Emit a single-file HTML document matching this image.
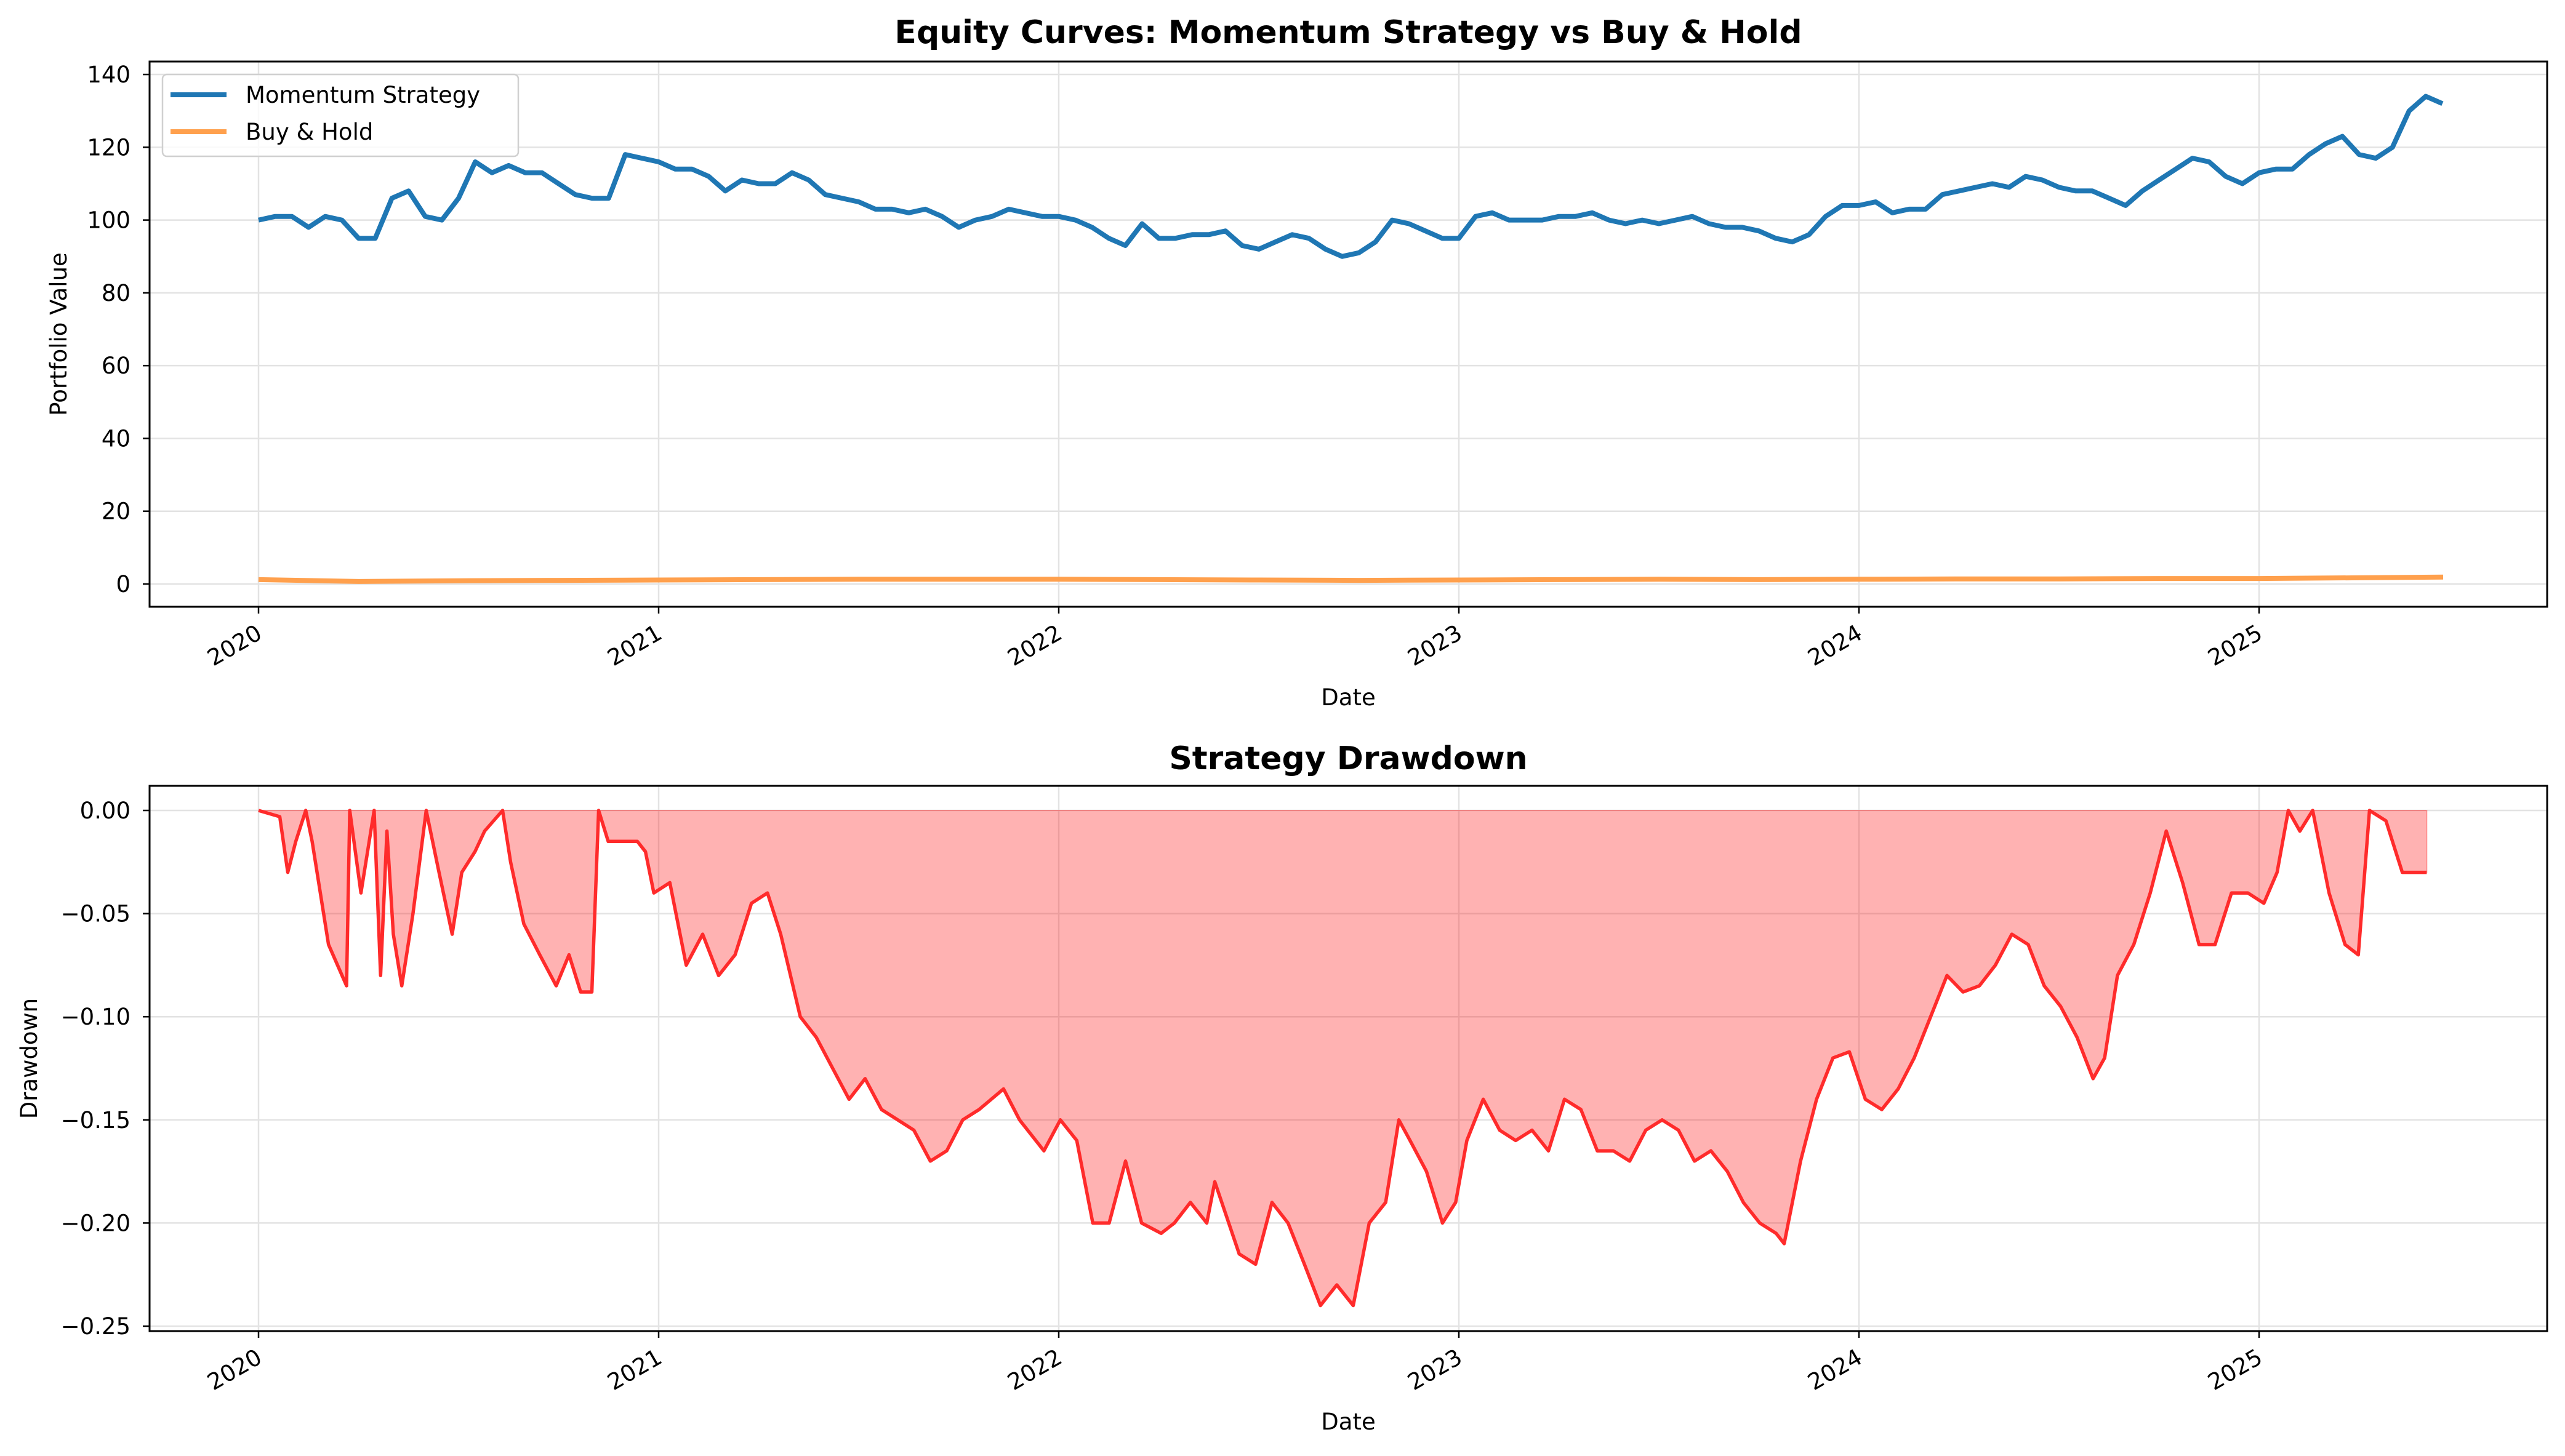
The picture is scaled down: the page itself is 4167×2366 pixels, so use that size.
<!DOCTYPE html>
<html><head><meta charset="utf-8">
<style>
html,body{margin:0;padding:0;background:#fff;}
svg{display:block;font-family:"DejaVu Sans","Liberation Sans",sans-serif;}
</style></head>
<body>
<svg id="chart" width="4167" height="2366" viewBox="0 0 4167 2366" xmlns="http://www.w3.org/2000/svg">
<rect x="0" y="0" width="4167" height="2366" fill="#fff"/>
<g id="top"></g>
<g id="bot"></g>
</svg>
<script>
// ---- data ----
const yearTicks = [2020, 2021, 2022, 2023, 2024, 2025];
const eqStartYear = 2020;
const eqStepsPerYear = 24;
const momentum = [
100,101,101,98,101,100,95,95,106,108,101,100,106,116,113,115,113,113,110,107,106,106,118,117,
116,114,114,112,108,111,110,110,113,111,107,106,105,103,103,102,103,101,98,100,101,103,102,101,
101,100,98,95,93,99,95,95,96,96,97,93,92,94,96,95,92,90,91,94,100,99,97,95,
95,101,102,100,100,100,101,101,102,100,99,100,99,100,101,99,98,98,97,95,94,96,101,104,
104,105,102,103,103,107,108,109,110,109,112,111,109,108,108,106,104,108,111,114,117,116,112,110,
113,114,114,118,121,123,118,117,120,130,134,132
];
const bhYears = [2020,2020.25,2020.5,2020.75,2021,2021.25,2021.5,2021.75,2022,2022.25,2022.5,2022.75,2023,2023.25,2023.5,2023.75,2024,2024.25,2024.5,2024.75,2025,2025.25,2025.46];
const buyHold = [1.2,0.7,0.9,1.0,1.1,1.2,1.3,1.3,1.3,1.2,1.1,1.0,1.1,1.2,1.3,1.2,1.3,1.4,1.4,1.5,1.5,1.7,1.9];
const ddYears = [2020.00,2020.053,2020.073,2020.093,2020.118,2020.134,2020.175,2020.220,2020.228,2020.256,2020.289,2020.305,2020.321,2020.337,2020.358,2020.386,2020.419,2020.451,2020.484,2020.508,2020.541,2020.565,2020.610,2020.630,2020.663,2020.703,2020.744,2020.776,2020.805,2020.833,2020.850,2020.874,2020.947,2020.967,2020.988,
2021.028,2021.069,2021.110,2021.150,2021.191,2021.232,2021.272,2021.305,2021.354,2021.394,2021.435,2021.476,2021.516,2021.557,2021.638,2021.679,2021.720,2021.760,2021.801,2021.862,2021.902,2021.963,
2022.004,2022.045,2022.085,2022.126,2022.167,2022.207,2022.256,2022.289,2022.329,2022.370,2022.390,2022.451,2022.492,2022.533,2022.573,2022.614,2022.654,2022.695,2022.736,2022.776,2022.817,2022.850,2022.878,2022.919,2022.959,2022.992,
2023.020,2023.061,2023.102,2023.142,2023.183,2023.224,2023.264,2023.305,2023.346,2023.386,2023.427,2023.467,2023.508,2023.549,2023.589,2023.630,2023.671,2023.711,2023.752,2023.793,2023.813,2023.854,2023.894,2023.935,2023.976,
2024.016,2024.057,2024.098,2024.138,2024.179,2024.220,2024.260,2024.301,2024.341,2024.382,2024.423,2024.463,2024.504,2024.545,2024.585,2024.614,2024.646,2024.687,2024.728,2024.768,2024.809,2024.850,2024.890,2024.931,2024.972,
2025.012,2025.045,2025.073,2025.102,2025.134,2025.175,2025.215,2025.248,2025.276,2025.317,2025.358,2025.419];
const drawdown = [0,-0.003,-0.03,-0.015,0,-0.015,-0.065,-0.085,0,-0.04,0,-0.08,-0.01,-0.06,-0.085,-0.05,0,-0.03,-0.06,-0.03,-0.02,-0.01,0,-0.025,-0.055,-0.07,-0.085,-0.07,-0.088,-0.088,0,-0.015,-0.015,-0.02,-0.04,
-0.035,-0.075,-0.06,-0.08,-0.07,-0.045,-0.04,-0.06,-0.1,-0.11,-0.125,-0.14,-0.13,-0.145,-0.155,-0.17,-0.165,-0.15,-0.145,-0.135,-0.15,-0.165,
-0.15,-0.16,-0.2,-0.2,-0.17,-0.2,-0.205,-0.2,-0.19,-0.2,-0.18,-0.215,-0.22,-0.19,-0.2,-0.22,-0.24,-0.23,-0.24,-0.2,-0.19,-0.15,-0.16,-0.175,-0.2,-0.19,
-0.16,-0.14,-0.155,-0.16,-0.155,-0.165,-0.14,-0.145,-0.165,-0.165,-0.17,-0.155,-0.15,-0.155,-0.17,-0.165,-0.175,-0.19,-0.2,-0.205,-0.21,-0.17,-0.14,-0.12,-0.117,
-0.14,-0.145,-0.135,-0.12,-0.1,-0.08,-0.088,-0.085,-0.075,-0.06,-0.065,-0.085,-0.095,-0.11,-0.13,-0.12,-0.08,-0.065,-0.04,-0.01,-0.035,-0.065,-0.065,-0.04,-0.04,
-0.045,-0.03,0,-0.01,0,-0.04,-0.065,-0.07,0,-0.005,-0.03,-0.03];
const topTicks = [0,20,40,60,80,100,120,140];
const botTicks = [0,-0.05,-0.10,-0.15,-0.20,-0.25];
const botTickLabels = ["0.00","\u22120.05","\u22120.10","\u22120.15","\u22120.20","\u22120.25"];

// ---- axes ----
const NS = "http://www.w3.org/2000/svg";
const L = 243, R = 4138;
const xScale = y => 420 + (y - 2020) * 650;
const yTop = v => 949 - v * 5.914;
const yBot = v => 1317 - v * 3352;
function mk(tag, attrs, parent, text) {
  const e = document.createElementNS(NS, tag);
  for (const k in attrs) e.setAttribute(k, attrs[k]);
  if (text !== undefined) e.textContent = text;
  parent.appendChild(e);
  return e;
}
function axes(g, top, bottom, ticks, labels, yfn, title, titleY, ylabel, ylabelX) {
  const t = mk('text', {x: (L + R) / 2, y: titleY, 'text-anchor': 'middle', 'font-size': 52, 'font-weight': 'bold'}, g, title);
  
  
  yearTicks.forEach(yr => {
    const x = xScale(yr);
    const gl = mk('line', {x1: x, x2: x, y1: top, y2: bottom, stroke: '#e3e3e3', 'stroke-width': 2.5}, g);
    
    
    mk('line', {x1: x, x2: x, y1: bottom, y2: bottom + 11, stroke: '#000', 'stroke-width': 2.5}, g);
    const tl = mk('text', {x: x + 8, y: bottom + 50, 'text-anchor': 'end', 'font-size': 37, transform: `rotate(-30 ${x + 8} ${bottom + 50})`}, g, String(yr));
    
    
  });
  ticks.forEach((v, i) => {
    const y = yfn(v);
    const gl = mk('line', {x1: L, x2: R, y1: y, y2: y, stroke: '#e3e3e3', 'stroke-width': 2.5}, g);
    
    
    mk('line', {x1: L - 11, x2: L, y1: y, y2: y, stroke: '#000', 'stroke-width': 2.5}, g);
    const tl = mk('text', {x: 212, y: y + 13, 'text-anchor': 'end', 'font-size': 37}, g, labels[i]);
    
    
  });
  const yl = mk('text', {x: ylabelX, y: (top + bottom) / 2, 'text-anchor': 'middle', 'font-size': 37, transform: `rotate(-90 ${ylabelX} ${(top + bottom) / 2})`}, g, ylabel);
  
  
  const xl = mk('text', {x: (L + R) / 2, y: bottom + 160, 'text-anchor': 'middle', 'font-size': 37}, g, 'Date');
  
  
}
const gt = document.getElementById('top'), gb = document.getElementById('bot');
axes(gt, 100, 986, topTicks, topTicks.map(String), yTop, 'Equity Curves: Momentum Strategy vs Buy & Hold', 70, 'Portfolio Value', 108);
axes(gb, 1277, 2163, botTicks, botTickLabels, yBot, 'Strategy Drawdown', 1250, 'Drawdown', 60);

// top series
const bhPts = bhYears.map((y, i) => xScale(y).toFixed(1) + ',' + yTop(buyHold[i]).toFixed(1)).join(' ');
const bh = mk('polyline', {points: bhPts, fill: 'none', stroke: '#ffa04d', 'stroke-width': 8, 'stroke-linejoin': 'round'}, gt);


const mPts = momentum.map((v, i) => xScale(eqStartYear + i / eqStepsPerYear).toFixed(1) + ',' + yTop(v).toFixed(1)).join(' ');
const ml = mk('polyline', {points: mPts, fill: 'none', stroke: '#1f77b4', 'stroke-width': 8, 'stroke-linejoin': 'round'}, gt);



// legend
const lg = mk('g', {}, gt);


mk('rect', {x: 264, y: 121, width: 578, height: 133, rx: 7, fill: '#fff', 'fill-opacity': 0.8, stroke: '#d0d0d0', 'stroke-width': 2.5}, lg);
mk('line', {x1: 277, x2: 368, y1: 154, y2: 154, stroke: '#1f77b4', 'stroke-width': 8}, lg);
const le1 = mk('text', {x: 399, y: 167, 'font-size': 37}, lg, 'Momentum Strategy');


mk('line', {x1: 277, x2: 368, y1: 214, y2: 214, stroke: '#ffa04d', 'stroke-width': 8}, lg);
const le2 = mk('text', {x: 399, y: 227, 'font-size': 37}, lg, 'Buy & Hold');



// drawdown
const dPts = ddYears.map((y, i) => xScale(y).toFixed(1) + ',' + yBot(drawdown[i]).toFixed(1));
const area = mk('polygon', {points: xScale(ddYears[0]) + ',' + yBot(0) + ' ' + dPts.join(' ') + ' ' + xScale(ddYears[ddYears.length - 1]) + ',' + yBot(0), fill: '#ff0000', 'fill-opacity': 0.3, stroke: '#ff0000', 'stroke-opacity': 0.3, 'stroke-width': 2}, gb);


const dl = mk('polyline', {points: dPts.join(' '), fill: 'none', stroke: '#ff2b2b', 'stroke-width': 5.5, 'stroke-linejoin': 'round'}, gb);



// frames
const f1 = mk('rect', {x: L, y: 100, width: R - L, height: 886, fill: 'none', stroke: '#000', 'stroke-width': 3}, gt);


const f2 = mk('rect', {x: L, y: 1277, width: R - L, height: 886, fill: 'none', stroke: '#000', 'stroke-width': 3}, gb);


</script>
</body></html>
